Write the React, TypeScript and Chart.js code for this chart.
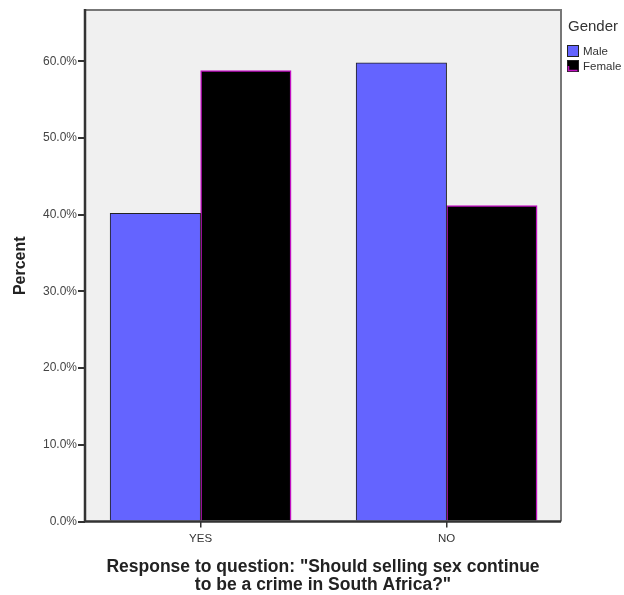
import React, { useEffect, useRef } from "react";
import { Chart, registerables } from "chart.js";

Chart.register(...registerables);

const categories = ["YES", "NO"];
const maleValues = [40.2, 59.8];
const femaleValues = [58.8, 41.2];
const yTicks = [0, 10, 20, 30, 40, 50, 60];
const seriesNames = ["Male", "Female"];
const legendTitle = "Gender";
const xTitle = ['Response to question: "Should selling sex continue', 'to be a crime in South Africa?"'];
const yTitle = "Percent";

const FONT = "'Liberation Sans', Arial, sans-serif";
const MALE_FILL = "#6464ff";
const FEMALE_FILL = "#000000";
const FEMALE_BORDER = "#c010c0";

const framePlugin = {
  id: "frame",
  beforeDraw(chart: any) {
    const { ctx, chartArea: a } = chart;
    ctx.save();
    ctx.fillStyle = "#ffffff";
    ctx.fillRect(0, 0, chart.width, chart.height);
    ctx.fillStyle = "#f0f0f0";
    ctx.fillRect(a.left, a.top, a.right - a.left, a.bottom - a.top);
    ctx.restore();
  },
  afterDraw(chart: any) {
    const { ctx, chartArea: a } = chart;
    ctx.save();
    ctx.strokeStyle = "#777";
    ctx.lineWidth = 2;
    ctx.beginPath();
    ctx.moveTo(a.left, a.top);
    ctx.lineTo(a.right, a.top);
    ctx.lineTo(a.right, a.bottom);
    ctx.stroke();
    ctx.strokeStyle = "#333";
    ctx.lineWidth = 2.5;
    ctx.beginPath();
    ctx.moveTo(a.left, a.top - 1);
    ctx.lineTo(a.left, a.bottom);
    ctx.lineTo(a.right, a.bottom);
    ctx.stroke();

    // legend
    const lx = a.right + 6;
    ctx.fillStyle = "#333";
    ctx.font = `15px ${FONT}`;
    ctx.textBaseline = "middle";
    ctx.textAlign = "left";
    ctx.fillText(legendTitle, lx + 1, 27);
    const fills = [MALE_FILL, FEMALE_FILL];
    const ys = [45, 60];
    ctx.font = `11.5px ${FONT}`;
    for (let i = 0; i < seriesNames.length; i++) {
      ctx.fillStyle = fills[i];
      ctx.fillRect(lx, ys[i], 12, 12);
      ctx.strokeStyle = "#222";
      ctx.lineWidth = 1;
      ctx.strokeRect(lx + 0.5, ys[i] + 0.5, 11, 11);
      if (i === 1) {
        ctx.strokeStyle = FEMALE_BORDER;
        ctx.lineWidth = 1.5;
        ctx.beginPath();
        ctx.moveTo(lx + 1.5, ys[i] + 6);
        ctx.lineTo(lx + 1.5, ys[i] + 10.5);
        ctx.lineTo(lx + 10.5, ys[i] + 10.5);
        ctx.stroke();
      }
      ctx.fillStyle = "#333";
      ctx.fillText(seriesNames[i], lx + 16, ys[i] + 6.5);
    }
    ctx.restore();
  },
};

export default function App() {
  const ref = useRef<HTMLCanvasElement>(null);
  useEffect(() => {
    if (!ref.current) return;
    const chart = new Chart(ref.current, {
      type: "bar",
      data: {
        datasets: [
          {
            label: seriesNames[0],
            data: maleValues.map((v, i) => ({ x: i, y: v })),
            backgroundColor: MALE_FILL,
            borderColor: "#222",
            borderWidth: 1,
          },
          {
            label: seriesNames[1],
            data: femaleValues.map((v, i) => ({ x: i, y: v })),
            backgroundColor: FEMALE_FILL,
            borderColor: FEMALE_BORDER,
            borderWidth: 1.5,
          },
        ],
      },
      options: {
        animation: false,
        responsive: false,
        maintainAspectRatio: false,
        layout: { padding: { top: 10, right: 63, left: 0, bottom: 0 } },
        datasets: { bar: { barThickness: 90.5, borderSkipped: "start" } } as any,
        plugins: { legend: { display: false }, tooltip: { enabled: false } },
        scales: {
          x: {
            type: "linear",
            min: -0.47,
            max: 1.465,
            offset: false,
            afterBuildTicks: (s: any) => {
              s.ticks = categories.map((_, i) => ({ value: i }));
            },
            afterFit: (s: any) => {
              s.height = 73.5;
            },
            grid: { display: true, offset: false, drawOnChartArea: false, drawTicks: true, tickLength: 6, color: "#333", lineWidth: 1.5 },
            border: { display: false },
            ticks: {
              font: { family: FONT, size: 11.5 },
              color: "#333",
              padding: 4,
              maxRotation: 0,
              callback: (v: any) => categories[v] ?? "",
            },
            title: {
              display: true,
              text: xTitle,
              font: { family: FONT, size: 17.5, weight: "bold", lineHeight: 1.05 },
              color: "#222",
              padding: { top: 10, bottom: 0.5 },
            },
          },
          y: {
            min: 0,
            max: 66.7,
            afterBuildTicks: (s: any) => {
              s.ticks = yTicks.map((v) => ({ value: v }));
            },
            afterFit: (s: any) => {
              s.width = 85;
            },
            grid: { display: true, drawOnChartArea: false, drawTicks: true, tickLength: 7, color: "#333", lineWidth: 2 },
            border: { display: false },
            ticks: {
              font: { family: FONT, size: 12 },
              color: "#444",
              padding: 1,
              callback: (v: any) => Number(v).toFixed(1) + "%",
            },
            title: {
              display: true,
              text: yTitle,
              font: { family: FONT, size: 16, weight: "bold", lineHeight: 1.2 },
              color: "#222",
              padding: { top: 10.5, bottom: 0 },
            },
          },
        },
      },
      plugins: [framePlugin],
    });
    return () => chart.destroy();
  }, []);
  return (
    <div style={{ position: "fixed", left: 0, top: 0, width: 624, height: 595 }}>
      <canvas ref={ref} width={624} height={595} style={{ width: 624, height: 595 }} />
    </div>
  );
}
